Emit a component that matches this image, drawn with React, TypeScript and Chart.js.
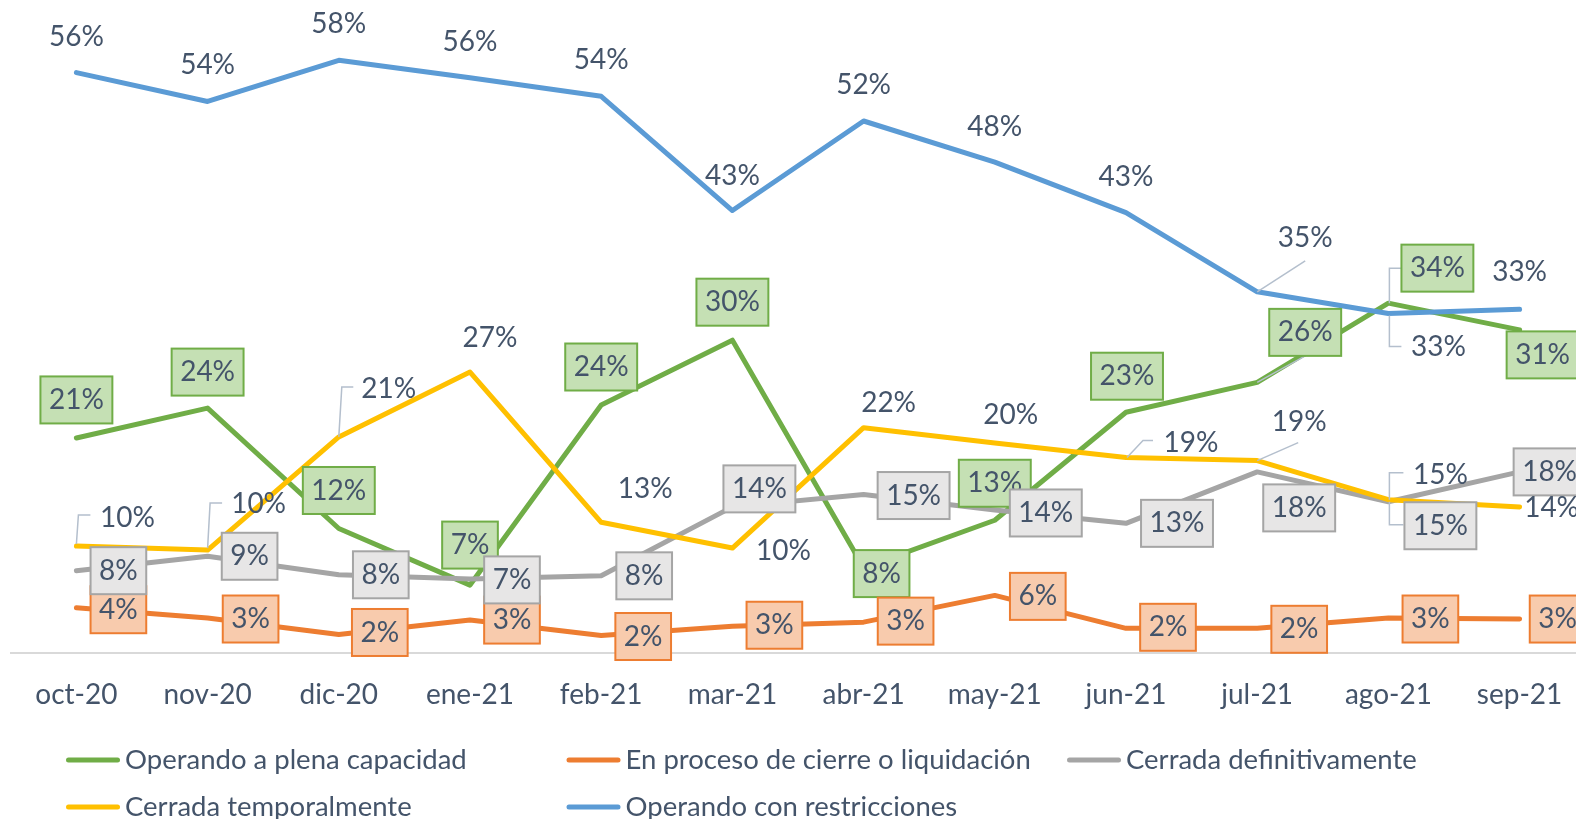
import React, { useEffect, useRef } from "react";
import { Chart, registerables } from "chart.js";

Chart.register(...registerables);

// ---------------- data ----------------
const categories = [
  "oct-20", "nov-20", "dic-20", "ene-21", "feb-21", "mar-21",
  "abr-21", "may-21", "jun-21", "jul-21", "ago-21", "sep-21",
];

const plenaCapacidad = [20.9, 23.8, 12.1, 6.6, 24.1, 30.4, 8.3, 12.9, 23.4, 26.3, 34.0, 31.4];
const procesoCierre = [4.4, 3.4, 1.8, 3.2, 1.7, 2.6, 3.0, 5.6, 2.4, 2.4, 3.4, 3.3];
const cerradaDefinitiva = [8.0, 9.4, 7.6, 7.2, 7.5, 14.2, 15.4, 13.9, 12.6, 17.6, 14.7, 17.6];
const cerradaTemporal = [10.4, 10.0, 21.0, 27.3, 12.7, 10.2, 21.9, 20.4, 19.0, 18.7, 14.9, 14.2];
const conRestricciones = [56.4, 53.6, 57.6, 55.9, 54.1, 43.0, 51.7, 47.7, 42.8, 35.1, 33.0, 33.4];

const seriesNames = [
  "Operando a plena capacidad",
  "En proceso de cierre o liquidación",
  "Cerrada definitivamente",
  "Cerrada temporalmente",
  "Operando con restricciones",
];

// ---------------- styles ----------------
const TEXT = "#44546A";
const LEADER = "#B4BFCD";
const FONT = "Lato";

const SERIES = [
  { label: seriesNames[0], data: plenaCapacidad, color: "#70AD47", boxFill: "#C5E0B4" },
  { label: seriesNames[1], data: procesoCierre, color: "#ED7D31", boxFill: "#F8CBAD" },
  { label: seriesNames[2], data: cerradaDefinitiva, color: "#A5A5A5", boxFill: "#E7E6E6" },
  { label: seriesNames[3], data: cerradaTemporal, color: "#FFC000", boxFill: null },
  { label: seriesNames[4], data: conRestricciones, color: "#5B9BD5", boxFill: null },
];

// label centre offsets relative to the point (pixels)
const LABEL_OFFSETS: number[][][] = [
  [[0, -38], [0, -36], [0, -38], [0, -40], [0, -38], [0, -38], [18, 6], [0, -37], [1, -36], [48, -50], [49, -35], [23, 25]],
  [[42, 2], [43, 1], [41, -2], [42, 0], [42, 1], [42, -1], [42, -1], [43, 1], [42, -1], [42, 1], [42, 1], [38, 0]],
  [[42, 0], [42, 0], [42, 0], [42, 1], [43, 0], [27, -18], [50, 1], [51, 3], [51, 0], [42, 36], [52, 24], [30, 0]],
  [[51, -28], [51, -46], [50, -48], [20, -34], [44, -33], [51, 3], [25, -25], [16, -28], [65, -15], [42, -39], [52, -25], [32, 1]],
  [[0, -36], [0, -36], [0, -36], [0, -36], [0, -36], [0, -35], [0, -36], [0, -35], [0, -36], [48, -54], [50, 34], [0, -37]],
];

// leader lines (relative polyline to the point)
const LEADERS: Record<string, number[][]> = {
  "0-9": [[0, 0], [49, -27]],
  "0-10": [[1, 0], [1, -35], [13, -35]],
  "2-10": [[1, 0], [1, 23], [15, 23]],
  "3-0": [[0, -2], [2, -31], [14, -31]],
  "3-1": [[0, -2], [2.5, -47], [14.5, -47]],
  "3-2": [[0, 0], [3, -50], [14.5, -50]],
  "3-8": [[1, 0], [17, -17], [27, -17]],
  "3-9": [[0, 0], [41, -18]],
  "3-10": [[1, 0], [1, -27], [15, -27]],
  "4-9": [[0, 0], [48, -31]],
  "4-10": [[1, 2], [1, 33], [13, 33]],
};

const labelPlugin = {
  id: "excelLabels",
  afterDatasetsDraw(chart: any) {
    const ctx = chart.ctx;
    ctx.save();
    ctx.strokeStyle = LEADER;
    ctx.lineWidth = 1.5;
    SERIES.forEach((s, si) => {
      const meta = chart.getDatasetMeta(si);
      meta.data.forEach((pt: any, pi: number) => {
        const leader = LEADERS[`${si}-${pi}`];
        if (!leader) return;
        ctx.beginPath();
        leader.forEach(([dx, dy], k) => {
          if (k === 0) ctx.moveTo(pt.x + dx, pt.y + dy);
          else ctx.lineTo(pt.x + dx, pt.y + dy);
        });
        ctx.stroke();
      });
    });
    ctx.font = `28px ${FONT}`;
    ctx.textAlign = "center";
    ctx.textBaseline = "middle";
    SERIES.forEach((s, si) => {
      const meta = chart.getDatasetMeta(si);
      meta.data.forEach((pt: any, pi: number) => {
        const [dx, dy] = LABEL_OFFSETS[si][pi];
        const cx = pt.x + dx;
        const cy = pt.y + dy;
        const text = Math.round(s.data[pi]) + "%";
        if (s.boxFill) {
          const w = ctx.measureText(text).width + 17;
          const h = 47;
          ctx.fillStyle = s.boxFill;
          ctx.fillRect(cx - w / 2, cy - h / 2, w, h);
          ctx.strokeStyle = s.color;
          ctx.lineWidth = 2;
          ctx.strokeRect(cx - w / 2, cy - h / 2, w, h);
        }
        ctx.fillStyle = TEXT;
        ctx.fillText(text, cx, cy);
      });
    });
    ctx.restore();
  },
};

const LEGEND_X0 = 66;
const LEGEND_COL_W = 500.5;
const LEGEND_Y0 = 760;
const LEGEND_ROW_H = 47;

const legendPlugin = {
  id: "excelLegend",
  afterDraw(chart: any) {
    const ctx = chart.ctx;
    ctx.save();
    ctx.font = `27.5px ${FONT}`;
    ctx.textBaseline = "middle";
    ctx.textAlign = "left";
    chart.data.datasets.forEach((ds: any, i: number) => {
      const col = i % 3;
      const row = Math.floor(i / 3);
      const x = LEGEND_X0 + col * LEGEND_COL_W;
      const y = LEGEND_Y0 + row * LEGEND_ROW_H;
      ctx.strokeStyle = ds.borderColor;
      ctx.lineWidth = 5;
      ctx.lineCap = "round";
      ctx.beginPath();
      ctx.moveTo(x + 2.5, y);
      ctx.lineTo(x + 51.5, y);
      ctx.stroke();
      ctx.fillStyle = TEXT;
      ctx.fillText(ds.label, x + 59, y);
    });
    ctx.restore();
  },
};

export default function App() {
  const ref = useRef<HTMLCanvasElement | null>(null);

  useEffect(() => {
    if (!ref.current) return;
    const chart = new Chart(ref.current, {
      type: "line",
      data: {
        labels: categories,
        datasets: SERIES.map((s, i) => ({
          label: s.label,
          data: s.data,
          borderColor: s.color,
          backgroundColor: s.color,
          borderWidth: 5,
          pointRadius: 0,
          pointHoverRadius: 0,
          tension: 0,
          borderJoinStyle: "round",
          borderCapStyle: "round",
          fill: false,
          order: SERIES.length - i,
        })),
      },
      options: {
        responsive: false,
        animation: false,
        devicePixelRatio: 1,
        events: [],
        layout: { padding: { left: 10.8, right: 14.8, top: 35.6, bottom: 106 } },
        plugins: {
          legend: { display: false },
          tooltip: { enabled: false },
        },
        scales: {
          x: {
            offset: true,
            grid: { display: false, drawTicks: false },
            border: { display: true, color: "#D9D9D9", width: 2 },
            ticks: {
              color: TEXT,
              font: { family: FONT, size: 28 },
              padding: 25,
              maxRotation: 0,
              autoSkip: false,
            },
            afterFit: (scale: any) => {
              scale.height = 60;
            },
          },
          y: { display: false, min: 0, max: 60 },
        },
      } as any,
      plugins: [labelPlugin, legendPlugin],
    });
    return () => chart.destroy();
  }, []);

  return (
    <div
      style={{
        position: "absolute",
        left: 0,
        top: 0,
        width: 1576,
        height: 819,
        overflow: "hidden",
        background: "#ffffff",
      }}
    >
      <canvas ref={ref} width={1600} height={819} style={{ display: "block", width: 1600, height: 819 }} />
    </div>
  );
}
